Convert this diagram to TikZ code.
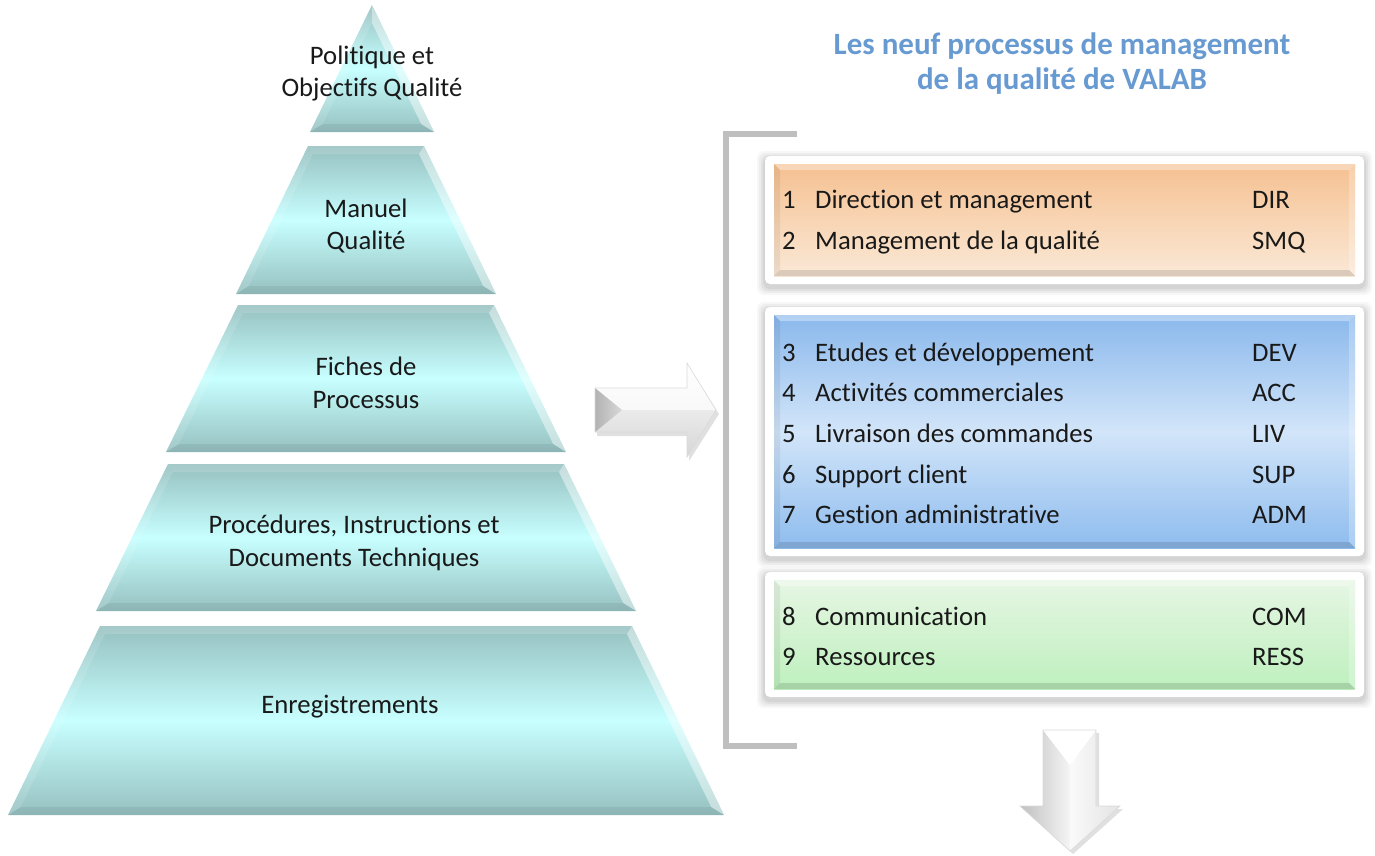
\documentclass[tikz,border=0pt]{standalone}
\usepackage{fontspec}
\setmainfont{Carlito}[Ligatures=NoCommon]
\usetikzlibrary{calc}
\definecolor{pyrdark}{RGB}{150,192,192}
\definecolor{pyrlight}{RGB}{200,255,255}
\definecolor{titleblue}{RGB}{104,154,210}
\definecolor{orgtop}{RGB}{245,192,145}
\definecolor{orgmid}{RGB}{248,213,180}
\definecolor{orgbot}{RGB}{250,232,214}
\definecolor{blutop}{RGB}{138,184,236}
\definecolor{blumid}{RGB}{210,229,249}
\definecolor{blubot}{RGB}{142,188,238}
\definecolor{grntop}{RGB}{230,246,228}
\definecolor{grnmid}{RGB}{210,243,208}
\definecolor{grnbot}{RGB}{190,240,190}
\definecolor{brgray}{RGB}{191,191,191}

\newcommand{\PyrLayer}[6]{%
  \pgfmathsetmacro\PLxa{#2-#5}%
  \pgfmathsetmacro\PLxb{#2+#5}%
  \pgfmathsetmacro\PLxc{#2+#6}%
  \pgfmathsetmacro\PLxd{#2-#6}%
  \pgfmathsetmacro\PLti{(#5<5) ? (#3+18) : (#3+8)}%
  \pgfmathsetmacro\PLbi{#4-8}%
  \pgfmathsetmacro\PLht{max(#5-5,0)}%
  \pgfmathsetmacro\PLhb{#6-12.8}%
  \coordinate (#1tl) at (\PLxa,#3);
  \coordinate (#1tr) at (\PLxb,#3);
  \coordinate (#1br) at (\PLxc,#4);
  \coordinate (#1bl) at (\PLxd,#4);
  \coordinate (#1itl) at ({#2-\PLht},\PLti);
  \coordinate (#1itr) at ({#2+\PLht},\PLti);
  \coordinate (#1ibr) at ({#2+\PLhb},\PLbi);
  \coordinate (#1ibl) at ({#2-\PLhb},\PLbi);
  \shade[top color=pyrdark,bottom color=pyrdark,middle color=pyrlight] (#1tl) -- (#1tr) -- (#1br) -- (#1bl) -- cycle;
  \fill[white,opacity=.15] (#1tl) -- (#1tr) -- (#1itr) -- (#1itl) -- cycle;
  \fill[white,opacity=.45] (#1tr) -- (#1br) -- (#1ibr) -- (#1itr) -- cycle;
  \fill[black,opacity=.06] (#1br) -- (#1bl) -- (#1ibl) -- (#1ibr) -- cycle;
  \fill[white,opacity=.12] (#1bl) -- (#1tl) -- (#1itl) -- (#1ibl) -- cycle;
}

\newcommand{\ProcBox}[8]{%
  \foreach \e/\o in {8/.03,6/.04,4/.05,2/.06}{%
    \fill[black,opacity=\o,rounded corners=7] ({#2-9-\e},{#3-8-\e+3}) rectangle ({#4+9+\e},{#5+8+\e+3});
  }
  \fill[white,rounded corners=5] ({#2-9},{#3-8}) rectangle ({#4+9},{#5+8});
  \shade[top color=#6,bottom color=#8,middle color=#7] (#2,#3) rectangle (#4,#5);
  \fill[white,opacity=.35] (#2,#3) -- (#4,#3) -- ({#4-6},{#3+6}) -- ({#2+6},{#3+6}) -- cycle;
  \fill[white,opacity=.25] (#4,#3) -- (#4,#5) -- ({#4-6},{#5-6}) -- ({#4-6},{#3+6}) -- cycle;
  \fill[black,opacity=.12] (#4,#5) -- (#2,#5) -- ({#2+6},{#5-6}) -- ({#4-6},{#5-6}) -- cycle;
  \fill[black,opacity=.06] (#2,#5) -- (#2,#3) -- ({#2+6},{#3+6}) -- ({#2+6},{#5-6}) -- cycle;
  \path (#2,#3) coordinate (#1nw) (#4,#5) coordinate (#1se);
}

\begin{document}
\begin{tikzpicture}[x=1pt,y=-1pt,
  pyrtext/.style={align=center,inner sep=0pt,text=black!90,font=\fontsize{26.7}{32.5}\selectfont},
  boxtxt/.style={anchor=base west,inner sep=0pt,text=black!90,font=\fontsize{26.7}{32}\selectfont},
  titletext/.style={align=center,inner sep=0pt,text=titleblue,font=\bfseries\fontsize{31}{35.5}\selectfont},
  bracketline/.style={draw=brgray,line width=6.5pt},
  arrowedge/.style={draw=gray!30,line width=0.6pt,line join=miter}]
\useasboundingbox (0,0) rectangle (1375,855);

% ---------- pyramid ----------
\PyrLayer{La}{372}{5}{132}{0}{62}
\PyrLayer{Lb}{366}{146}{294}{58}{130}
\PyrLayer{Lc}{366}{305}{452}{128}{200}
\PyrLayer{Ld}{366}{464}{611}{198}{270}
\PyrLayer{Le}{366}{626}{815}{266}{358}

\node[pyrtext] (p1) at (372,73.5) {Politique et\\Objectifs Qualité};
\node[pyrtext] (p2) at (366,226) {Manuel\\Qualité};
\node[pyrtext] (p3) at (366,383) {Fiches de\\Processus};
\node[pyrtext] (p4) at (354,543) {Procédures, Instructions et\\Documents Techniques};
\node[pyrtext,anchor=base] (p5) at (350,713.5) {Enregistrements};

% ---------- right arrow ----------
\fill[black,opacity=.12] (597,392) -- (689,392) -- (689,367) -- (719,414) -- (689,461) -- (689,436) -- (597,436) -- cycle;
\shade[top color=white,bottom color=gray!32] (595,388) -- (687,388) -- (687,363) -- (716,410) -- (687,457) -- (687,432) -- (595,432) -- cycle;
\fill[white,opacity=.7] (595,388) -- (687,388) -- (687,363) -- (716,410) -- (622,410) -- cycle;
\shade[left color=gray!60,right color=gray!30] (595,388) -- (622,410) -- (595,432) -- cycle;
\draw[arrowedge] (595,388) -- (687,388) -- (687,363) -- (716,410) -- (687,457) -- (687,432) -- (595,432) -- cycle;

% ---------- bracket ----------
\coordinate (brTop) at (797,134);
\coordinate (brTL) at (726,134);
\coordinate (brBL) at (726,746);
\coordinate (brBot) at (797,746);
\draw[bracketline] (brTop) -- (brTL) -- (brBL) -- (brBot);

% ---------- title ----------
\node[titletext] (title) at (1062,63.5) {Les neuf processus de management\\de la qualité de VALAB};

% ---------- process boxes ----------
\ProcBox{bo}{774}{164}{1355}{276}{orgtop}{orgmid}{orgbot}
\ProcBox{bb}{774}{315}{1355}{548}{blutop}{blumid}{blubot}
\ProcBox{bg}{774}{580}{1355}{689}{grntop}{grnmid}{grnbot}

\node[boxtxt] (n1) at (782,208.5) {1};
\node[boxtxt] (l1) at (815,208.5) {Direction et management};
\node[boxtxt] (c1) at (1252,208.5) {DIR};
\node[boxtxt] (n2) at (782,249.5) {2};
\node[boxtxt] (l2) at (815,249.5) {Management de la qualité};
\node[boxtxt] (c2) at (1252,249.5) {SMQ};

\node[boxtxt] (n3) at (782,361.5) {3};
\node[boxtxt] (l3) at (815,361.5) {Etudes et développement};
\node[boxtxt] (c3) at (1252,361.5) {DEV};
\node[boxtxt] (n4) at (782,401.5) {4};
\node[boxtxt] (l4) at (815,401.5) {Activités commerciales};
\node[boxtxt] (c4) at (1252,401.5) {ACC};
\node[boxtxt] (n5) at (782,442.5) {5};
\node[boxtxt] (l5) at (815,442.5) {Livraison des commandes};
\node[boxtxt] (c5) at (1252,442.5) {LIV};
\node[boxtxt] (n6) at (782,483.5) {6};
\node[boxtxt] (l6) at (815,483.5) {Support client};
\node[boxtxt] (c6) at (1252,483.5) {SUP};
\node[boxtxt] (n7) at (782,523.5) {7};
\node[boxtxt] (l7) at (815,523.5) {Gestion administrative};
\node[boxtxt] (c7) at (1252,523.5) {ADM};

\node[boxtxt] (n8) at (782,625.5) {8};
\node[boxtxt] (l8) at (815,625.5) {Communication};
\node[boxtxt] (c8) at (1252,625.5) {COM};
\node[boxtxt] (n9) at (782,665.5) {9};
\node[boxtxt] (l9) at (815,665.5) {Ressources};
\node[boxtxt] (c9) at (1252,665.5) {RESS};

% ---------- down arrow ----------
\fill[black,opacity=.12] (1046,733) -- (1099,733) -- (1099,809) -- (1123,809) -- (1073,854) -- (1023,809) -- (1046,809) -- cycle;
\fill[white] (1043,730) -- (1096,730) -- (1096,806) -- (1120,806) -- (1070,851) -- (1020,806) -- (1043,806) -- cycle;
\shade[left color=gray!50,right color=gray!8] (1043,730) -- (1070,765) -- (1070,851) -- (1020,806) -- (1043,806) -- cycle;
\shade[left color=gray!4,right color=gray!22] (1096,730) -- (1070,765) -- (1070,851) -- (1120,806) -- (1096,806) -- cycle;
\fill[white] (1043,730) -- (1096,730) -- (1070,765) -- cycle;
\draw[arrowedge] (1043,730) -- (1096,730) -- (1096,806) -- (1120,806) -- (1070,851) -- (1020,806) -- (1043,806) -- cycle;
\end{tikzpicture}
\end{document}
